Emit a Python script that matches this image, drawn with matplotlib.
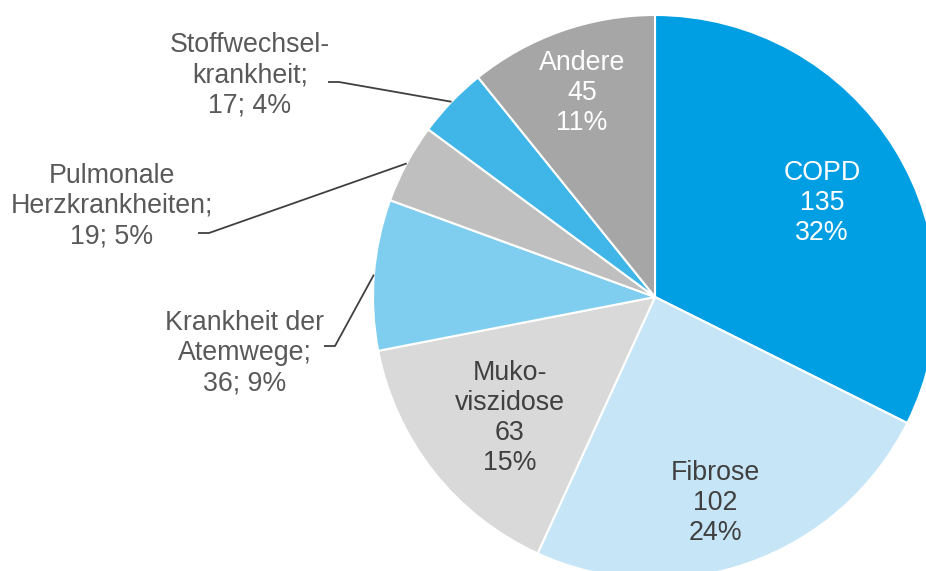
import numpy as np
import matplotlib
matplotlib.use('Agg')
import matplotlib.pyplot as plt

plt.rcParams['font.family'] = ['Liberation Sans', 'DejaVu Sans']

# data (clockwise from top)
names = ['COPD', 'Fibrose', 'Muko-\nviszidose', 'Krankheit der\nAtemwege;',
         'Pulmonale\nHerzkrankheiten;', 'Stoffwechsel-\nkrankheit;', 'Andere']
values = [135, 102, 63, 36, 19, 17, 45]
percents = [32, 24, 15, 9, 5, 4, 11]
colors = ['#009FE3', '#C6E5F6', '#D9D9D9', '#80CEEF', '#BFBFBF', '#3FB5E8', '#A6A6A6']
inside = [True, True, True, False, False, False, True]
text_colors = ['white', '#404040', '#404040', '#595959', '#595959', '#595959', 'white']

W, H = 926, 571
cx, cy, R = 655, 297, 282

# label positions in pixels (top-left origin)
label_pos = [(822, 203), (715, 503), (510, 418), (245, 353), (112, 206), (250, 75), (582, 93)]
# where the leader line leaves the text
leader_start = [None, None, None, (324, 346), (198, 233), (328, 82), None]

fig = plt.figure(figsize=(W / 100, H / 100), dpi=100)
ax = fig.add_axes([0, 0, 1, 1])

ax.pie(values, colors=colors, startangle=90, counterclock=False,
       center=(cx, H - cy), radius=R,
       wedgeprops=dict(edgecolor='white', linewidth=1.5))
ax.set_xlim(0, W)
ax.set_ylim(0, H)
ax.set_aspect('equal')
ax.axis('off')

total = sum(values)
cum = np.cumsum([0] + values)
for i, name in enumerate(names):
    x, y = label_pos[i]
    if inside[i]:
        txt = f'{name}\n{values[i]}\n{percents[i]}%'
    else:
        txt = f'{name}\n{values[i]}; {percents[i]}%'
    ax.text(x, H - y, txt, ha='center', va='center', multialignment='center',
            fontsize=19.3, color=text_colors[i], linespacing=1.21)
    if leader_start[i] is not None:
        mid = (cum[i] + cum[i + 1]) / 2 / total * 2 * np.pi
        ex = cx + R * np.sin(mid)
        ey = cy - R * np.cos(mid)
        sx, sy = leader_start[i]
        ax.plot([sx, sx + 11, ex], [H - sy, H - sy, H - ey],
                color='#404040', linewidth=1.3, solid_capstyle='butt')

fig.savefig('out.png', dpi=100)
